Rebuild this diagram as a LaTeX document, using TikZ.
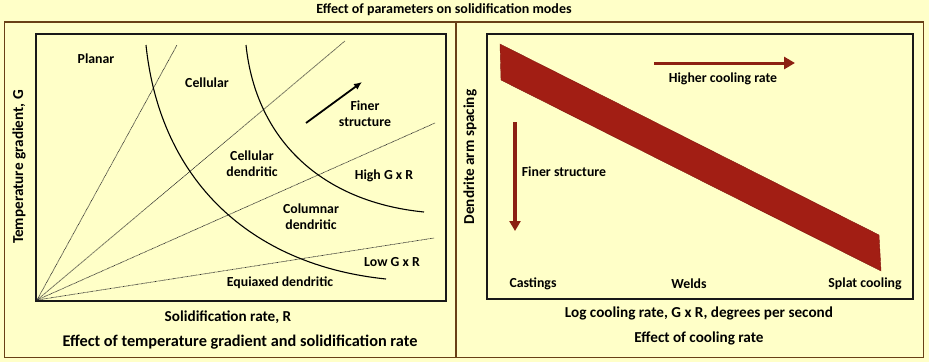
\documentclass[tikz,border=0pt]{standalone}
\usepackage{fontspec}
\setmainfont{Carlito}
\usetikzlibrary{arrows.meta}
\definecolor{bgc}{RGB}{255,255,200}
\definecolor{framec}{RGB}{105,64,22}
\definecolor{bandc}{RGB}{162,30,20}
\definecolor{arrc}{RGB}{140,32,18}
\begin{document}
\begin{tikzpicture}[x=1pt,y=-1pt,
  lbl/.style={font=\bfseries\fontsize{13.8}{16}\selectfont, align=center, inner sep=0pt},
  titletxt/.style={font=\bfseries\fontsize{14}{16}\selectfont, align=center, inner sep=0pt},
  captxt/.style={font=\bfseries\fontsize{16.3}{18}\selectfont, align=center, inner sep=0pt},
  axl/.style={font=\bfseries\fontsize{15.2}{17}\selectfont, align=center, inner sep=0pt},
  ray/.style={line width=0.7pt, black!85, dash pattern=on 0.7pt off 0.6pt},
  boundary/.style={line width=1.1pt, black},
  box/.style={line width=1.6pt, black!90},
  panel/.style={line width=1.2pt, framec}]
\fill[bgc] (0,0) rectangle (929,362);
\useasboundingbox (0,0) rectangle (929,362);
% title and panels
\node[titletxt] (title) at (444,10) {Effect of parameters on solidification modes};
\draw[panel] (4.5,22) rectangle (923.5,357.5);
\draw[panel] (456,22) -- (456,357.5);
% ---------------- left panel ----------------
\draw[box] (36,34) rectangle (446,301);
\coordinate (O) at (37,300);
\coordinate (r1) at (177,45);
\coordinate (r2) at (345,41);
\coordinate (r3) at (435,123);
\coordinate (r4) at (434,238);
\draw[ray] (O) -- (r1);
\draw[ray] (O) -- (r2);
\draw[ray] (O) -- (r3);
\draw[ray] (O) -- (r4);
\coordinate (c1s) at (146,45);
\coordinate (c1e) at (386,279);
\coordinate (c2s) at (246,45);
\coordinate (c2e) at (424,212);
\draw[boundary] (c1s) .. controls (160,180) and (250,265) .. (c1e);
\draw[boundary] (c2s) .. controls (256,141) and (323,202) .. (c2e);
\coordinate (fa) at (306,123);
\coordinate (fb) at (362,82);
\draw[line width=1.8pt, -{Latex[length=8pt,width=7pt]}] (fa) -- (fb);
\node[lbl] (planar) at (96,59) {Planar};
\node[lbl] (cell) at (207,83) {Cellular};
\node[lbl] (finer) at (365,114) {Finer\\structure};
\node[lbl] (celld) at (252,164) {Cellular\\dendritic};
\node[lbl] (high) at (384,176) {High G x R};
\node[lbl] (col) at (311,217) {Columnar\\dendritic};
\node[lbl] (low) at (392,262) {Low G x R};
\node[lbl] (equi) at (280,283) {Equiaxed dendritic};
\node[axl] (xl) at (228,317) {Solidification rate, R};
\node[axl, rotate=90] (yl) at (19,167) {Temperature gradient, G};
\node[captxt] (lcap) at (240,342) {Effect of temperature gradient and solidification rate};
% ---------------- right panel ----------------
\draw[box] (487,34) rectangle (913,299);
\fill[bandc, draw=bandc!80!black, line width=0.4pt] (500,44) -- (879,235) -- (881,271) -- (501,80) -- cycle;
\coordinate (ha) at (654,63);
\coordinate (hb) at (795,63);
\draw[arrc, line width=3pt, -{Triangle[length=11pt,width=12pt]}] (ha) -- (hb);
\coordinate (da) at (515,122);
\coordinate (db) at (515,231);
\draw[arrc, line width=3.3pt, -{Triangle[length=10pt,width=11pt]}] (da) -- (db);
\node[lbl] (hcr) at (723,79) {Higher cooling rate};
\node[lbl] (fs) at (564,172) {Finer structure};
\node[lbl] (cast) at (533,284) {Castings};
\node[lbl] (welds) at (689,284) {Welds};
\node[lbl] (splat) at (865,284) {Splat cooling};
\node[axl] (rxl) at (699,313) {Log cooling rate, G x R, degrees per second};
\node[axl, rotate=90] (ryl) at (470,157) {Dendrite arm spacing};
\node[axl] (rcap) at (699,338) {Effect of cooling rate};
\end{tikzpicture}
\end{document}
